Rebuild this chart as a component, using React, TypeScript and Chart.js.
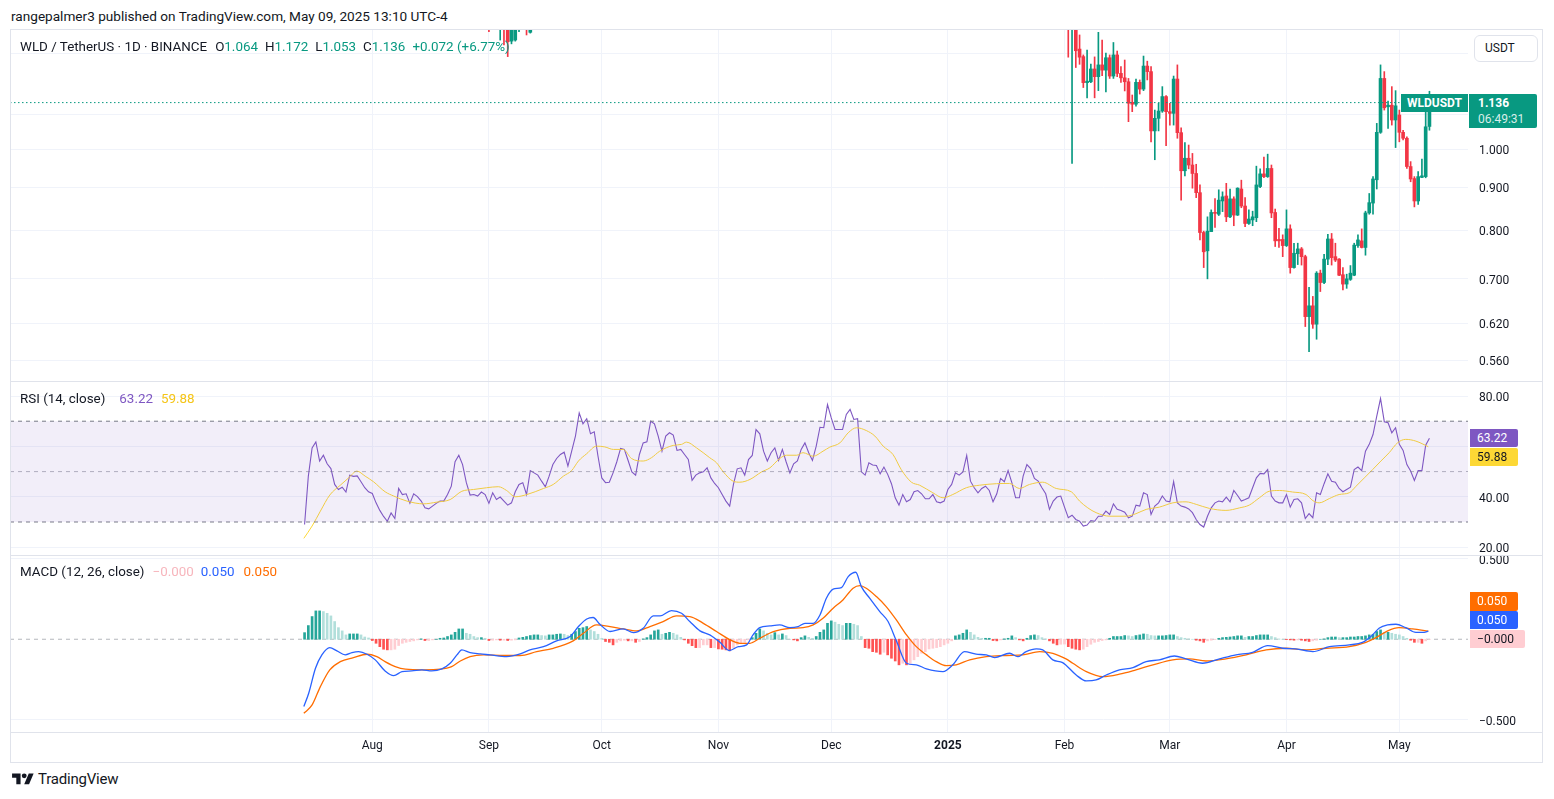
import React, { useEffect, useRef } from 'react';
import { Chart, registerables } from 'chart.js';

Chart.register(...registerables);

const FONT = "Roboto, 'Noto Sans', 'DejaVu Sans', sans-serif";
const TEXT = '#131722';
const GRID = '#f0f3fa';
const UP = '#089981';
const DOWN = '#F23645';

// ---------- time axis (day 0 = 1 Aug 2024) ----------
const monthTickDays = [0, 31, 61, 92, 122, 153, 184, 212, 243, 273];
const monthTickLabels = ['Aug', 'Sep', 'Oct', 'Nov', 'Dec', '2025', 'Feb', 'Mar', 'Apr', 'May'];
const X_MIN = -96.3;
const X_MAX = 291.25;

// ---------- price pane ----------
const priceTicks = [0.56, 0.62, 0.7, 0.8, 0.9, 1.0, 1.1, 1.3];
const PRICE_MIN = 0.5287;
const PRICE_MAX = 1.3868;
const lastPrice = 1.136;

const candleDays = [
  31, 34, 35, 36, 37, 38, 39, 41, 42,
  185, 186, 187, 188, 189, 190, 191, 192, 193, 194, 195, 196, 197, 198, 199, 200,
  201, 202, 203, 204, 205, 206, 207, 208, 209, 210, 211, 212, 213, 214, 215, 216,
  217, 218, 219, 220, 221, 222, 223, 224, 225, 226, 227, 228, 229, 230, 231, 232,
  233, 234, 235, 236, 237, 238, 239, 240, 241, 242, 243, 244, 245, 246, 247, 248,
  249, 250, 251, 252, 253, 254, 255, 256, 257, 258, 259, 260, 261, 262, 263, 264,
  265, 266, 267, 268, 269, 270, 271, 272, 273, 274, 275, 276, 277, 278, 279, 280, 281,
];
const candleOpen = [
  1.45, 1.40, 1.46, 1.40, 1.345, 1.349, 1.39, 1.45, 1.378,
  1.55, 1.42, 1.45, 1.316, 1.289, 1.200, 1.203, 1.246, 1.220, 1.260, 1.242, 1.285, 1.222, 1.295, 1.231, 1.216,
  1.203, 1.137, 1.131, 1.201, 1.179, 1.256, 1.237, 1.051, 1.088, 1.110, 1.155, 1.108, 1.103, 1.212, 1.046, 0.942,
  0.975, 0.957, 0.935, 0.887, 0.795, 0.756, 0.797, 0.840, 0.836, 0.867, 0.879, 0.830, 0.872, 0.834, 0.896, 0.855,
  0.815, 0.823, 0.828, 0.902, 0.934, 0.927, 0.948, 0.840, 0.780, 0.780, 0.767, 0.803, 0.722, 0.750, 0.760, 0.744,
  0.631, 0.650, 0.618, 0.711, 0.693, 0.739, 0.781, 0.744, 0.739, 0.708, 0.690, 0.699, 0.707, 0.767, 0.777, 0.763,
  0.839, 0.862, 0.919, 1.047, 1.214, 1.123, 1.128, 1.083, 1.098, 1.047, 1.030, 0.953, 0.922, 0.867, 0.925, 0.927, 1.064,
];
const candleHigh = [
  1.47, 1.48, 1.47, 1.42, 1.44, 1.46, 1.45, 1.47, 1.47,
  1.60, 1.50, 1.47, 1.368, 1.295, 1.312, 1.263, 1.288, 1.378, 1.349, 1.302, 1.295, 1.340, 1.309, 1.254, 1.277,
  1.214, 1.160, 1.212, 1.209, 1.291, 1.273, 1.254, 1.113, 1.134, 1.187, 1.158, 1.134, 1.222, 1.260, 1.060, 1.018,
  1.011, 0.988, 0.959, 0.906, 0.798, 0.830, 0.846, 0.873, 0.894, 0.889, 0.910, 0.896, 0.877, 0.899, 0.918, 0.875,
  0.846, 0.843, 0.954, 0.947, 0.978, 0.986, 0.957, 0.848, 0.804, 0.790, 0.846, 0.812, 0.772, 0.772, 0.763, 0.747,
  0.684, 0.667, 0.714, 0.717, 0.749, 0.791, 0.793, 0.772, 0.740, 0.722, 0.709, 0.726, 0.772, 0.790, 0.803, 0.843,
  0.885, 0.927, 1.073, 1.260, 1.237, 1.141, 1.187, 1.174, 1.113, 1.053, 1.034, 0.966, 0.927, 0.940, 0.973, 1.113, 1.172,
];
const candleLow = [
  1.38, 1.349, 1.331, 1.289, 1.335, 1.345, 1.38, 1.368, 1.375,
  1.287, 0.961, 1.251, 1.262, 1.184, 1.151, 1.200, 1.151, 1.174, 1.223, 1.170, 1.214, 1.214, 1.220, 1.201, 1.173,
  1.078, 1.108, 1.125, 1.163, 1.174, 1.209, 1.020, 0.971, 1.051, 1.106, 1.009, 1.068, 1.068, 1.030, 0.869, 0.929,
  0.947, 0.898, 0.875, 0.779, 0.722, 0.700, 0.797, 0.806, 0.833, 0.842, 0.819, 0.828, 0.810, 0.833, 0.851, 0.808,
  0.813, 0.810, 0.819, 0.899, 0.924, 0.925, 0.828, 0.765, 0.763, 0.744, 0.765, 0.711, 0.721, 0.728, 0.727, 0.614,
  0.573, 0.611, 0.593, 0.676, 0.691, 0.728, 0.727, 0.734, 0.706, 0.679, 0.682, 0.697, 0.706, 0.763, 0.762, 0.747,
  0.836, 0.836, 0.896, 1.044, 1.113, 1.058, 1.068, 1.004, 1.020, 1.025, 0.948, 0.914, 0.853, 0.859, 0.924, 0.924, 1.053,
];
const candleClose = [
  1.40, 1.46, 1.40, 1.343, 1.42, 1.43, 1.42, 1.40, 1.44,
  1.42, 1.45, 1.310, 1.287, 1.200, 1.205, 1.246, 1.220, 1.260, 1.242, 1.285, 1.222, 1.295, 1.231, 1.216, 1.203,
  1.134, 1.131, 1.201, 1.179, 1.256, 1.237, 1.051, 1.088, 1.110, 1.155, 1.108, 1.103, 1.212, 1.046, 0.942, 0.975,
  0.957, 0.935, 0.887, 0.795, 0.754, 0.798, 0.840, 0.838, 0.869, 0.877, 0.830, 0.872, 0.834, 0.898, 0.855, 0.815,
  0.825, 0.830, 0.906, 0.934, 0.927, 0.948, 0.839, 0.777, 0.777, 0.767, 0.803, 0.722, 0.751, 0.760, 0.744, 0.631,
  0.650, 0.618, 0.711, 0.693, 0.739, 0.781, 0.742, 0.737, 0.707, 0.690, 0.700, 0.711, 0.768, 0.779, 0.763, 0.839,
  0.863, 0.921, 1.047, 1.214, 1.120, 1.128, 1.083, 1.126, 1.047, 1.030, 0.953, 0.921, 0.867, 0.927, 0.929, 1.063, 1.136,
];

// ---------- RSI pane ----------
const rsiTicks = [20, 40, 60, 80];
const RSI_MIN = 16.9;
const RSI_MAX = 85.56;
const rsiStartDay = -18;
const rsiValues = [
  29.0, 48.2, 59.4, 61.8, 54.2, 56.5, 53.1, 51.2, 44.9, 42.9,
  43.8, 41.9, 48.6, 48.1, 48.3, 46.0, 43.6, 42.0, 41.3, 37.6,
  34.6, 32.2, 30.3, 33.6, 31.4, 43.3, 40.9, 41.2, 37.4, 41.2,
  40.1, 38.3, 35.6, 35.2, 36.3, 37.4, 38.3, 38.3, 40.9, 44.2,
  53.9, 56.5, 52.8, 45.6, 40.7, 40.9, 40.3, 41.9, 40.9, 37.4,
  41.6, 38.9, 39.9, 38.3, 36.7, 37.6, 42.0, 44.9, 45.6, 40.9,
  50.4, 49.5, 48.6, 46.2, 44.0, 48.2, 52.8, 55.2, 56.8, 57.7,
  52.2, 58.1, 64.1, 73.3, 69.0, 71.0, 65.0, 65.8, 56.1, 47.5,
  45.6, 45.8, 49.5, 53.9, 59.2, 58.8, 54.4, 49.9, 48.6, 56.8,
  61.4, 61.8, 70.0, 69.0, 64.1, 58.1, 64.1, 65.4, 64.5, 58.4,
  58.8, 56.8, 54.8, 46.5, 48.6, 49.5, 49.9, 51.5, 47.5, 45.3,
  43.6, 40.9, 38.3, 36.3, 44.9, 51.1, 51.5, 48.6, 54.8, 56.4,
  66.7, 65.0, 58.1, 54.2, 57.5, 59.4, 54.4, 58.8, 53.9, 49.5,
  53.1, 54.2, 58.8, 61.4, 57.5, 54.4, 60.1, 67.6, 67.4, 76.6,
  71.3, 66.7, 66.7, 66.7, 72.7, 74.7, 70.7, 71.0, 49.9, 48.6,
  53.5, 52.6, 52.4, 49.1, 51.8, 48.9, 45.2, 39.6, 36.7, 40.9,
  38.0, 38.9, 42.0, 42.5, 41.2, 39.2, 39.2, 40.9, 38.0, 37.6,
  38.3, 42.9, 44.9, 49.5, 48.6, 49.9, 56.4, 46.2, 43.6, 41.6,
  43.3, 44.2, 42.5, 38.0, 41.2, 47.3, 46.0, 50.4, 45.6, 39.6,
  39.6, 48.2, 52.8, 51.2, 47.3, 46.2, 43.6, 41.2, 35.0, 38.3,
  39.9, 40.3, 35.9, 31.7, 32.7, 31.0, 30.3, 28.4, 28.8, 30.6,
  30.3, 32.3, 32.3, 34.3, 33.0, 37.2, 35.0, 34.6, 33.9, 31.7,
  32.3, 36.7, 36.3, 41.6, 40.9, 33.0, 36.3, 37.6, 40.3, 38.3,
  38.0, 46.0, 37.6, 36.3, 35.9, 35.2, 33.7, 31.0, 29.0, 28.0,
  32.3, 35.6, 37.6, 38.3, 38.0, 39.9, 38.0, 42.5, 40.5, 38.3,
  38.9, 39.6, 43.6, 47.5, 49.3, 49.1, 50.8, 40.3, 38.3, 37.6,
  37.6, 40.9, 35.9, 38.9, 39.2, 37.6, 31.4, 33.3, 31.7, 41.6,
  40.9, 45.2, 49.1, 46.2, 45.8, 43.3, 42.0, 42.9, 43.8, 50.8,
  51.8, 50.4, 58.1, 60.8, 64.7, 72.0, 79.0, 69.8, 69.4, 65.4,
  67.4, 60.8, 58.4, 52.8, 50.2, 46.5, 50.4, 50.4, 60.5, 63.22,
];
const rsiMaDays = [
  -18.2, -16, -13.8, -11.3, -8.5, -6.3, -4.1, -1.9, 0.3, 3.4, 5.7, 9.2, 13.6, 17.2, 20.7, 23.8,
  26.9, 30.4, 33.5, 35.7, 38, 41.1, 45.5, 48.1, 50.8, 53, 54.8, 57, 59.6, 61.8, 64.1, 66.7,
  68.9, 72, 74.2, 76.4, 80, 82.2, 83.5, 86.2, 89.7, 91.5, 93.3, 95.9, 97.7, 100.4, 103.5, 105.7,
  108.3, 110.1, 112.8, 114.5, 117.2, 119.8, 121.6, 124.3, 126.5, 128.7, 131.3, 133.6, 135.8, 138.4,
  140.6, 143.3, 145.5, 149, 151.7, 154.3, 157.9, 161.4, 165.9, 169.4, 172, 174.7, 178.2, 181.8,
  185.8, 188, 190.2, 192.4, 196, 200.4, 203, 205.7, 209.2, 212.8, 216.3, 219, 222.5, 226.9, 230.5,
  233.1, 235.8, 238.4, 241.1, 244.6, 248.2, 250, 251.7, 254.4, 257, 259.7, 261.5, 263.7, 265.9,
  268.1, 270.3, 272.5, 274.7, 277.4, 280.7,
];
const rsiMaValues = [
  23.5, 28.4, 34.3, 40.7, 44.6, 47.5, 50.2, 48.2, 46.0, 42.0, 40.3, 38.3, 37.2, 37.9, 38.9, 42.2,
  42.9, 43.6, 44.0, 42.5, 40.0, 40.9, 43.3, 44.9, 48.2, 50.4, 54.2, 57.1, 60.1, 59.8, 58.8, 58.8,
  55.2, 54.2, 55.5, 58.1, 60.4, 60.8, 61.7, 59.4, 55.5, 53.5, 49.9, 46.2, 45.8, 46.9, 49.9, 51.5,
  55.2, 56.5, 56.5, 57.5, 56.1, 58.1, 59.7, 61.4, 65.4, 67.4, 66.3, 64.1, 60.1, 56.8,
  50.8, 45.8, 44.6, 41.6, 39.6, 40.9, 43.6, 44.6, 45.2, 45.3, 43.3, 44.9, 45.8, 43.3,
  42.0, 38.3, 35.6, 33.7, 32.3, 32.3, 33.3, 35.0, 35.9, 37.6, 38.0, 37.0, 35.4, 34.6, 35.6,
  36.7, 39.6, 42.2, 42.5, 41.9, 40.9, 38.5, 37.6, 39.3, 40.9, 41.6, 44.2, 47.5, 50.8,
  54.2, 57.5, 61.4, 62.8, 62.1, 59.88,
];

// ---------- MACD pane ----------
const MACD_MIN = -0.576;
const MACD_MAX = 0.517;
const macdTicks = [-0.5, 0.5];
const macdDays = [
  -18.2, -16.9, -15.1, -13.4, -11.3, -9.4, -7.2, -5.4, -3.6, -1.4, 0.8, 3.4, 5.7, 7.9, 10.5, 13.2,
  15.8, 18.5, 20.7, 22.5, 23.8, 26, 28.7, 31.3, 35.7, 39.3, 41.9, 45.5, 49, 52.6, 54.8, 57,
  58.7, 60.5, 63.2, 66.7, 69.4, 72, 74.7, 76.5, 79.5, 82.2, 84.4, 87.1, 89.7, 92.4, 94.9, 97.3,
  99.5, 101.2, 103, 105.7, 108.3, 111, 113.2, 115, 117.2, 119, 120.7, 122.5, 124.7, 126.5, 128.5,
  130, 132.2, 134.9, 137.1, 139.3, 142, 144.6, 147.3, 151.7, 154.3, 157.4, 160.5, 163.2, 165.4,
  169.4, 171.6, 173.8, 176.5, 178.2, 180.9, 183.5, 187.1, 189.8, 192.4, 195.1, 198.6, 202.2, 205.7,
  209.2, 213.2, 216.3, 220.7, 225.2, 229.6, 234, 238, 242, 245.5, 250, 254.4, 259.7, 263.2, 265.9,
  267.6, 269.9, 272.1, 274.7, 277.4, 279.6, 280.7,
];
const macdValues = [
  -0.418, -0.335, -0.180, -0.097, -0.052, -0.072, -0.097, -0.083, -0.077, -0.093, -0.128, -0.197, -0.226, -0.201, -0.197, -0.190,
  -0.197, -0.184, -0.149, -0.097, -0.066, -0.083, -0.091, -0.097, -0.108, -0.091, -0.066, -0.046, -0.010, 0.017, 0.079, 0.126,
  0.135, 0.093, 0.048, 0.064, 0.041, 0.068, 0.145, 0.145, 0.178, 0.161, 0.110, 0.052, 0.027, -0.019, -0.070, -0.046,
  -0.035, 0.027, 0.072, 0.083, 0.089, 0.072, 0.079, 0.099, 0.099, 0.151, 0.255, 0.311, 0.321, 0.389, 0.416,
  0.327, 0.255, 0.172, 0.110, -0.010, -0.149, -0.159, -0.184, -0.201, -0.159, -0.077, -0.093, -0.097, -0.114,
  -0.087, -0.108, -0.077, -0.060, -0.066, -0.128, -0.145, -0.222, -0.259, -0.253, -0.222, -0.190, -0.176, -0.139,
  -0.128, -0.104, -0.122, -0.149, -0.122, -0.097, -0.081, -0.039, -0.056, -0.060, -0.077, -0.046, -0.035, -0.019, 0.027,
  0.068, 0.089, 0.093, 0.072, 0.043, 0.043, 0.050,
];
const signalDays = [
  -18.2, -16, -13.8, -11.3, -8.5, -5, -1.4, 1.2, 3.4, 6.1, 8.8, 13.6, 18, 21.1, 23.4, 26,
  29.5, 34.9, 39.3, 43.7, 48.1, 53.4, 56.1, 59.6, 63.2, 66.7, 70.3, 73.8, 77.3, 80.9, 84.4,
  88, 91.5, 95.1, 97.7, 100.4, 103, 106.6, 111, 114.5, 117.2, 119.8, 122.5, 125.1, 127.8, 129.6,
  131.3, 134, 136.6, 139.3, 142, 144.6, 147.3, 149.9, 152.6, 155.2, 158.8, 163.2, 168.5, 172.9,
  177.4, 180.9, 184.4, 186.2, 189.8, 194.2, 198.6, 203, 207.5, 212.8, 217.2, 221.6, 226.9, 232.3,
  237.6, 242.9, 248.2, 253.5, 259.7, 264.1, 266.8, 269.9, 272.9, 276.5, 280.7,
];
const signalValues = [
  -0.460, -0.408, -0.294, -0.190, -0.139, -0.114, -0.093, -0.108, -0.139, -0.170, -0.186, -0.190, -0.186, -0.170, -0.135, -0.108,
  -0.097, -0.101, -0.101, -0.077, -0.056, -0.010, 0.037, 0.089, 0.079, 0.064, 0.052, 0.079, 0.110, 0.145, 0.141,
  0.099, 0.048, -0.004, -0.025, -0.025, 0.006, 0.048, 0.068, 0.072, 0.089, 0.130, 0.193, 0.244, 0.317, 0.333,
  0.317, 0.265, 0.203, 0.120, 0.027, -0.046, -0.097, -0.139, -0.164, -0.159, -0.128, -0.108, -0.101, -0.097,
  -0.077, -0.087, -0.122, -0.149, -0.201, -0.232, -0.217, -0.190, -0.159, -0.128, -0.122, -0.135, -0.122, -0.097,
  -0.066, -0.056, -0.066, -0.056, -0.046, -0.019, 0.010, 0.052, 0.072, 0.064, 0.050,
];
const histStartDay = -18;
const histValues = [
  0.041, 0.085, 0.141, 0.176, 0.176, 0.172, 0.161, 0.145, 0.110, 0.072,
  0.052, 0.027, 0.033, 0.033, 0.033, 0.027, 0.014, 0.008, -0.008, -0.025,
  -0.046, -0.062, -0.066, -0.066, -0.062, -0.039, -0.025, -0.019, -0.014, -0.010,
  -0.004, 0.002, -0.008, -0.008, -0.004, 0.000, 0.006, 0.008, 0.017, 0.027,
  0.043, 0.064, 0.064, 0.037, 0.031, 0.017, 0.010, 0.010, 0.006, -0.008,
  -0.006, -0.004, -0.006, -0.006, -0.008, -0.006, -0.004, 0.008, 0.012, 0.017,
  0.023, 0.027, 0.027, 0.023, 0.021, 0.027, 0.027, 0.031, 0.033, 0.031,
  0.023, 0.031, 0.048, 0.068, 0.072, 0.079, 0.058, 0.048, 0.031, 0.006,
  -0.014, -0.019, -0.035, -0.019, -0.010, -0.006, -0.010, -0.010, -0.019, -0.014,
  0.002, 0.010, 0.027, 0.052, 0.058, 0.031, 0.037, 0.043, 0.037, 0.027,
  0.012, -0.004, -0.025, -0.040, -0.052, -0.052, -0.035, -0.035, -0.052, -0.052,
  -0.060, -0.062, -0.066, -0.072, -0.052, -0.035, -0.025, -0.019, -0.004, 0.010,
  0.037, 0.064, 0.052, 0.037, 0.027, 0.041, 0.027, 0.033, 0.023, 0.000,
  -0.004, -0.010, 0.010, 0.021, 0.012, 0.006, 0.017, 0.043, 0.058, 0.099,
  0.114, 0.106, 0.093, 0.085, 0.099, 0.099, 0.093, 0.085, 0.017, -0.052,
  -0.056, -0.077, -0.081, -0.093, -0.081, -0.097, -0.118, -0.135, -0.159, -0.149,
  -0.159, -0.149, -0.128, -0.108, -0.087, -0.077, -0.060, -0.056, -0.052, -0.046,
  -0.035, -0.025, -0.010, 0.021, 0.027, 0.037, 0.058, 0.043, 0.027, 0.012,
  0.006, 0.006, 0.006, -0.008, -0.010, -0.004, 0.002, 0.006, 0.021, 0.010,
  -0.004, -0.010, 0.006, 0.023, 0.027, 0.023, 0.010, 0.002, -0.010, -0.025,
  -0.035, -0.031, -0.030, -0.046, -0.056, -0.062, -0.066, -0.062, -0.046, -0.031,
  -0.019, -0.014, -0.008, -0.004, 0.006, 0.017, 0.017, 0.017, 0.023, 0.021,
  0.017, 0.023, 0.027, 0.033, 0.031, 0.023, 0.021, 0.021, 0.021, 0.023,
  0.027, 0.027, 0.017, 0.010, 0.006, 0.002, 0.000, -0.006, -0.010, -0.019,
  -0.010, -0.006, -0.002, 0.006, 0.010, 0.012, 0.014, 0.017, 0.021, 0.021,
  0.012, 0.017, 0.017, 0.023, 0.027, 0.027, 0.027, 0.017, 0.010, 0.002,
  0.000, -0.002, -0.004, -0.006, -0.004, -0.006, -0.010, -0.014, -0.010, -0.006,
  0.000, 0.002, 0.010, 0.014, 0.014, 0.010, 0.010, 0.010, 0.014, 0.014,
  0.017, 0.017, 0.021, 0.027, 0.031, 0.048, 0.058, 0.043, 0.043, 0.037,
  0.031, 0.027, 0.017, 0.006, -0.006, -0.019, -0.019, -0.025, -0.010, -0.0003,
];

// ---------- helpers ----------
function xAxis(showLabels: boolean): any {
  return {
    type: 'linear',
    min: X_MIN,
    max: X_MAX,
    bounds: 'data',
    offset: false,
    grid: { color: GRID, drawTicks: false, offset: false, lineWidth: 1 },
    border: { display: false },
    ticks: showLabels
      ? {
          display: true,
          autoSkip: false,
          maxRotation: 0,
          padding: 7,
          color: TEXT,
          font: (c: any) => ({ family: FONT, size: 12, weight: c.tick && c.tick.value === 153 ? 'bold' : 'normal' }),
          callback: (v: any) => {
            const i = monthTickDays.indexOf(Number(v));
            return i >= 0 ? monthTickLabels[i] : '';
          },
        }
      : { display: false },
    afterBuildTicks: (s: any) => {
      s.ticks = monthTickDays.map((v) => ({ value: v }));
    },
    afterFit: (s: any) => {
      s.height = showLabels ? 30 : 0;
      s.paddingLeft = 0;
      s.paddingRight = 0;
    },
  };
}

function yAxis(extra: any, ticks: number[], fmt: (v: number) => string): any {
  return {
    position: 'right',
    bounds: 'data',
    grid: { color: GRID, drawTicks: false },
    border: { display: false },
    ticks: {
      padding: 11,
      labelOffset: 2,
      color: TEXT,
      autoSkip: false,
      font: { family: FONT, size: 12 },
      callback: (v: any) => fmt(Number(v)),
    },
    afterBuildTicks: (s: any) => {
      s.ticks = ticks.map((v) => ({ value: v }));
    },
    afterFit: (s: any) => {
      s.width = 75;
      s.paddingTop = 0;
      s.paddingBottom = 0;
    },
    ...extra,
  };
}

const baseOptions: any = {
  responsive: false,
  animation: false,
  layout: { padding: 0 },
  plugins: { legend: { display: false }, tooltip: { enabled: false } },
  events: [],
};

function hline(y: number, color: string, dash: number[], extra: any = {}): any {
  return {
    type: 'line',
    data: [
      { x: X_MIN, y },
      { x: X_MAX, y },
    ],
    borderColor: color,
    borderWidth: 1,
    borderDash: dash,
    pointRadius: 0,
    fill: false,
    ...extra,
  };
}

function makePrice(canvas: HTMLCanvasElement) {
  const colors = candleOpen.map((o, i) => (candleClose[i] >= o ? UP : DOWN));
  return new Chart(canvas, {
    type: 'bar',
    data: {
      datasets: [
        hline(lastPrice, UP, [1.5, 2.5], { order: 0 }),
        {
          type: 'bar',
          data: candleDays.map((d, i) => ({ x: d, y: [candleOpen[i], candleClose[i]] })),
          backgroundColor: colors,
          barThickness: 3,
          minBarLength: 1,
          grouped: false,
          order: 1,
        },
        {
          type: 'bar',
          data: candleDays.map((d, i) => ({ x: d, y: [candleLow[i], candleHigh[i]] })),
          backgroundColor: colors,
          barThickness: 1,
          grouped: false,
          order: 2,
        },
      ],
    } as any,
    options: {
      ...baseOptions,
      scales: {
        x: xAxis(false),
        y: yAxis({ type: 'logarithmic', min: PRICE_MIN, max: PRICE_MAX, beginAtZero: false }, priceTicks, (v) =>
          Math.abs(v - 1.1) < 1e-6 || Math.abs(v - 1.3) < 1e-6 ? '' : v.toFixed(3)
        ),
      },
    },
  } as any);
}

function makeRsi(canvas: HTMLCanvasElement) {
  return new Chart(canvas, {
    type: 'line',
    data: {
      datasets: [
        hline(70, '#787B86', [4, 4], { fill: { value: 30 }, backgroundColor: 'rgba(126, 87, 194, 0.1)' }),
        hline(30, '#787B86', [4, 4]),
        hline(50, 'rgba(120, 123, 134, 0.55)', [4, 4]),
        {
          data: rsiMaDays.map((d, i) => ({ x: d, y: rsiMaValues[i] })),
          borderColor: '#FDD835',
          borderWidth: 1,
          pointRadius: 0,
          cubicInterpolationMode: 'monotone',
          fill: false,
        },
        {
          data: rsiValues.map((v, i) => ({ x: rsiStartDay + i, y: v })),
          borderColor: '#7E57C2',
          borderWidth: 1.1,
          pointRadius: 0,
          tension: 0,
          fill: false,
        },
      ],
    } as any,
    options: {
      ...baseOptions,
      scales: {
        x: xAxis(false),
        y: yAxis({ type: 'linear', min: RSI_MIN, max: RSI_MAX }, rsiTicks, (v) => (v === 60 ? '' : v.toFixed(2))),
      },
    },
  } as any);
}

function makeMacd(canvas: HTMLCanvasElement) {
  const histColors = histValues.map((v, i) => {
    const prev = i > 0 ? histValues[i - 1] : v;
    if (v >= 0) return v >= prev ? '#26A69A' : '#B2DFDB';
    return v < prev ? '#FF5252' : '#FFCDD2';
  });
  return new Chart(canvas, {
    type: 'bar',
    data: {
      datasets: [
        {
          type: 'line',
          data: macdDays.map((d, i) => ({ x: d, y: macdValues[i] })),
          borderColor: '#2962FF',
          borderWidth: 1.3,
          pointRadius: 0,
          cubicInterpolationMode: 'monotone',
          order: 0,
        },
        {
          type: 'line',
          data: signalDays.map((d, i) => ({ x: d, y: signalValues[i] })),
          borderColor: '#FF6D00',
          borderWidth: 1.3,
          pointRadius: 0,
          cubicInterpolationMode: 'monotone',
          order: 1,
        },
        {
          type: 'bar',
          data: histValues.map((v, i) => ({ x: histStartDay + i, y: v })),
          backgroundColor: histColors,
          barThickness: 2,
          grouped: false,
          order: 2,
        },
        hline(0, 'rgba(120, 123, 134, 0.55)', [4, 4], { order: 3 }),
      ],
    } as any,
    options: {
      ...baseOptions,
      scales: {
        x: xAxis(true),
        y: yAxis({ type: 'linear', min: MACD_MIN, max: MACD_MAX, beginAtZero: false }, macdTicks, (v) =>
          (v < 0 ? '\u2212' : '') + Math.abs(v).toFixed(3)
        ),
      },
    },
  } as any);
}

const abs = (left: number, top: number, width: number, height: number, extra: any = {}): any => ({
  position: 'absolute',
  left,
  top,
  width,
  height,
  boxSizing: 'border-box',
  ...extra,
});

function Logo() {
  return (
    <svg width="22" height="17" viewBox="0 0 36 28" style={{ display: 'block' }}>
      <path d="M14 22H7V11H0V4h14v18zM28 22h-8l7.5-18h8L28 22z" fill={TEXT} />
      <circle cx="20" cy="8" r="4" fill={TEXT} />
    </svg>
  );
}

export default function App() {
  const priceRef = useRef<HTMLCanvasElement>(null);
  const rsiRef = useRef<HTMLCanvasElement>(null);
  const macdRef = useRef<HTMLCanvasElement>(null);

  useEffect(() => {
    document.body.style.margin = '0';
    Chart.defaults.font.family = FONT;
    const charts = [makePrice(priceRef.current!), makeRsi(rsiRef.current!), makeMacd(macdRef.current!)];
    return () => charts.forEach((c) => c.destroy());
  }, []);

  const legendRow = (top: number): any => ({
    position: 'absolute',
    left: 20,
    top: top - 9,
    height: 18,
    lineHeight: '18px',
    fontSize: 13.4,
    whiteSpace: 'nowrap',
    color: TEXT,
  });
  const sp = (color: string, ml = 7): any => ({ color, marginLeft: ml });
  const tag = (top: number, h: number, bg: string, color: string, w = 48): any =>
    abs(1470, top, w, h, {
      background: bg,
      color,
      fontSize: 12,
      lineHeight: `${h}px`,
      paddingLeft: 7,
      borderRadius: '0 2px 2px 0',
    });

  return (
    <div
      style={{
        position: 'fixed',
        left: 0,
        top: 0,
        width: 1554,
        height: 799,
        background: '#ffffff',
        fontFamily: FONT,
        color: TEXT,
        overflow: 'hidden',
      }}
    >
      <div style={abs(11, 7, 600, 18, { fontSize: 13.6, lineHeight: '18px', whiteSpace: 'nowrap' })}>
        rangepalmer3 published on TradingView.com, May 09, 2025 13:10 UTC-4
      </div>

      <canvas ref={priceRef} width={1533} height={351} style={abs(10, 30, 1533, 351)} />
      <canvas ref={rsiRef} width={1533} height={173} style={abs(10, 382, 1533, 173)} />
      <canvas ref={macdRef} width={1533} height={206} style={abs(10, 556, 1533, 206)} />

      {/* pane separators & frame */}
      <div style={abs(10, 381, 1533, 1, { background: '#e0e3eb' })} />
      <div style={abs(10, 555, 1533, 1, { background: '#e0e3eb' })} />
      <div style={abs(10, 732, 1533, 1, { background: '#e0e3eb' })} />
      <div style={abs(10, 29, 1533, 734, { border: '1px solid #e0e3eb', pointerEvents: 'none' })} />

      {/* legends */}
      <div style={legendRow(47)}>
        <span>WLD / TetherUS · 1D · BINANCE</span>
        <span style={sp(TEXT, 8)}>O</span>
        <span style={{ color: UP }}>1.064</span>
        <span style={sp(TEXT)}>H</span>
        <span style={{ color: UP }}>1.172</span>
        <span style={sp(TEXT)}>L</span>
        <span style={{ color: UP }}>1.053</span>
        <span style={sp(TEXT)}>C</span>
        <span style={{ color: UP }}>1.136</span>
        <span style={sp(UP)}>+0.072 (+6.77%)</span>
      </div>
      <div style={legendRow(399)}>
        <span>RSI (14, close)</span>
        <span style={sp('#7E57C2', 14)}>63.22</span>
        <span style={sp('#F5C518', 8)}>59.88</span>
      </div>
      <div style={legendRow(572)}>
        <span>MACD (12, 26, close)</span>
        <span style={sp('#F7B6BD', 8)}>{'\u2212'}0.000</span>
        <span style={sp('#2962FF')}>0.050</span>
        <span style={sp('#FF6D00', 9)}>0.050</span>
      </div>

      {/* right axis widgets */}
      <div
        style={abs(1474, 35, 64, 27, {
          border: '1px solid #e0e3eb',
          borderRadius: 6,
          fontSize: 12,
          lineHeight: '25px',
          paddingLeft: 10,
          background: '#fff',
        })}
      >
        USDT
      </div>
      <div
        style={abs(1401, 94, 67, 18, {
          background: UP,
          color: '#fff',
          fontSize: 12,
          fontWeight: 'bold',
          lineHeight: '18px',
          textAlign: 'center',
        })}
      >
        WLDUSDT
      </div>
      <div style={abs(1469, 94, 68, 34, { background: UP, color: '#fff', fontSize: 12, paddingLeft: 9, borderRadius: '0 2px 2px 0' })}>
        <div style={{ lineHeight: '17px', fontWeight: 'bold', marginTop: 1 }}>1.136</div>
        <div style={{ lineHeight: '14px', color: 'rgba(255,255,255,0.85)' }}>06:49:31</div>
      </div>

      <div style={tag(429, 18, '#7E57C2', '#fff')}>63.22</div>
      <div style={tag(448, 18, '#FDD835', TEXT)}>59.88</div>

      <div style={tag(592, 19, '#FF6D00', '#fff')}>0.050</div>
      <div style={tag(611, 18, '#2962FF', '#fff')}>0.050</div>
      <div style={tag(630, 18, '#FFCDD2', TEXT, 55)}>{'\u2212'}0.000</div>

      {/* footer logo */}
      <div style={abs(12, 770, 200, 18, { display: 'flex', alignItems: 'center', gap: 4 })}>
        <Logo />
        <span style={{ fontSize: 15, lineHeight: '18px', color: TEXT, letterSpacing: -0.2 }}>TradingView</span>
      </div>
    </div>
  );
}
